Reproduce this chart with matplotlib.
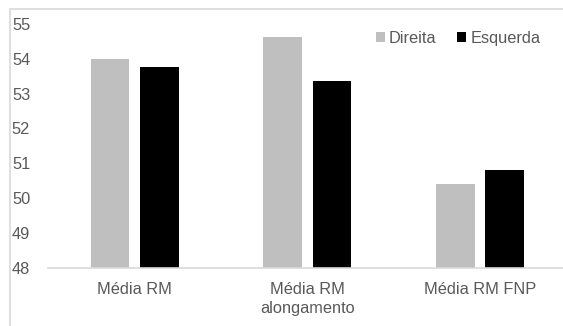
import matplotlib
matplotlib.use('Agg')
import matplotlib.pyplot as plt
from matplotlib.patches import Rectangle
import numpy as np

# data
categories = ['Média RM', 'Média RM\nalongamento', 'Média RM FNP']
direita = [54.0, 54.62, 50.4]
esquerda = [53.75, 53.35, 50.8]
series_names = ['Direita', 'Esquerda']
y_ticks = [48, 49, 50, 51, 52, 53, 54, 55]

plt.rcParams['font.family'] = ['Liberation Sans', 'DejaVu Sans']
text_col = '#595959'

W, H = 563, 326
fig = plt.figure(figsize=(W / 100, H / 100), dpi=100)

# chart border (only top/left are visible in the crop)
fig.patches.append(Rectangle((10 / W, -0.1), 1.2, (H - 9) / H + 0.1,
                             transform=fig.transFigure, fill=False,
                             edgecolor='#d9d9d9', linewidth=1.2))

ax = fig.add_axes([48.3 / W, (H - 268) / H, 518 / W, 244.3 / H])

x = np.arange(len(categories))
w = 0.2235
off = 0.143
ax.bar(x - off, direita, w, color='#bfbfbf', label=series_names[0], zorder=2)
ax.bar(x + off, esquerda, w, color='#000000', label=series_names[1], zorder=2)

ax.set_xlim(-0.5, 2.5)
ax.set_ylim(48, 55)
ax.set_yticks(y_ticks)
ax.set_xticks(x)
ax.set_xticklabels(categories, linespacing=1.35)

for s in ['top', 'right', 'left']:
    ax.spines[s].set_visible(False)
ax.spines['bottom'].set_color('#d9d9d9')
ax.spines['bottom'].set_linewidth(1.2)

ax.tick_params(axis='both', length=0, labelsize=11.8, colors=text_col)
ax.tick_params(axis='y', pad=13)
ax.tick_params(axis='x', pad=10)

leg = ax.legend(loc='upper left', bbox_to_anchor=(376 / W, (H - 31) / H),
                bbox_transform=fig.transFigure, ncol=2, frameon=False,
                fontsize=11.8, handlelength=0.55, handleheight=0.55,
                handletextpad=0.25, columnspacing=1.25, borderpad=0,
                borderaxespad=0)
for t in leg.get_texts():
    t.set_color(text_col)

fig.savefig('out.png', dpi=100)
